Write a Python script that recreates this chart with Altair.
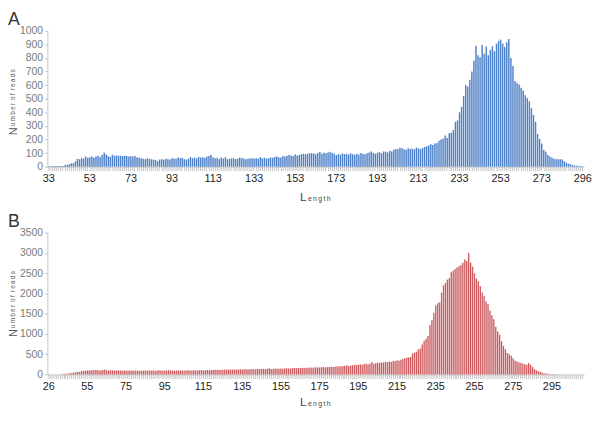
import altair as alt
import pandas as pd

# ---------------- Panel A data ----------------
len_a = list(range(33, 291)) + [292, 294, 296]
reads_a = [
    3, 3, 4, 4, 4, 5, 5, 5, 12, 14,
    18, 25, 26, 40, 58, 55, 62, 60, 75, 65,
    70, 75, 65, 75, 80, 72, 85, 105, 90, 78,
    72, 88, 80, 82, 80, 80, 78, 80, 78, 75,
    76, 74, 78, 70, 65, 62, 58, 55, 62, 58,
    55, 52, 50, 41, 52, 55, 50, 58, 55, 52,
    62, 60, 58, 68, 62, 65, 55, 52, 58, 70,
    62, 66, 60, 72, 68, 70, 66, 75, 78, 85,
    70, 62, 65, 55, 68, 60, 70, 55, 58, 60,
    62, 55, 58, 68, 62, 60, 55, 58, 60, 62,
    60, 62, 58, 70, 62, 65, 60, 62, 68, 65,
    72, 75, 70, 68, 78, 75, 80, 85, 82, 78,
    90, 82, 85, 92, 95, 92, 95, 98, 100, 96,
    92, 100, 108, 95, 102, 98, 105, 110, 100, 95,
    85, 92, 88, 98, 92, 95, 90, 98, 92, 88,
    95, 90, 100, 95, 92, 98, 105, 112, 100, 95,
    102, 108, 98, 112, 110, 105, 118, 112, 125, 130,
    128, 140, 135,
    128, 125, 135, 130, 132, 128, 140, 135, 130, 138,
    145, 150, 155, 165, 160, 170, 175, 190, 200, 205,
    230, 210, 245, 250, 270, 330, 340, 400, 440, 520,
    600, 590, 640, 700, 780, 890, 820, 805, 895, 830,
    885, 820, 860, 885, 850, 905, 925, 935, 905, 880,
    915, 940, 800, 740, 630, 615, 605, 580, 560, 525,
    505, 480, 430, 380, 330, 240, 205, 170, 125, 110,
    85, 75, 65, 58, 55, 55, 55, 52, 40, 30,
    22, 18, 12, 10, 7, 6, 4, 2,
]
labels_a = [33, 53, 73, 93, 113, 133, 153, 173, 193, 213, 233, 253, 273, 296]
yticks_a = [0, 100, 200, 300, 400, 500, 600, 700, 800, 900, 1000]

# ---------------- Panel B data ----------------
len_b = [26] + list(range(36, 312))
reads_b = [
    0, 0, 0, 0, 0, 0, 2, 5, 15, 20,
    25, 30, 40, 48, 55, 60, 65, 85, 90, 95,
    100, 98, 105, 102, 108, 110, 100, 104, 110, 120,
    105, 98, 102, 100, 95, 98, 100, 96, 92, 95,
    98, 94, 96, 100, 92, 98, 95, 90, 96, 94,
    98, 92, 95, 100, 96, 94, 98, 102, 95, 92,
    96, 100, 104, 98, 95, 92, 96, 100, 98, 94,
    96, 100, 104, 96, 98, 102, 100, 96, 104, 108,
    100, 104, 110, 106, 112, 108, 115, 110, 118, 112,
    116, 120, 114, 118, 122, 118, 125, 120, 124, 128,
    122, 126, 130, 124, 128, 132, 126, 130, 135, 130,
    134, 138, 132, 140, 155, 136, 140, 144, 138, 142,
    146, 140, 148, 152, 146, 150, 156, 160, 154, 158,
    162, 166, 160, 164, 168, 172, 166, 170, 175, 170,
    174, 178, 182, 176, 180, 186, 190, 184, 192, 196,
    200, 194, 206, 212, 218, 210, 222, 228, 236, 230,
    242, 248, 240, 256, 262, 250, 270, 300, 264, 278,
    290, 282, 300, 295, 310, 305, 320,
    310, 330, 325, 350, 340, 360, 380, 400,
    410, 420, 430, 520, 540, 560, 620, 640,
    740, 830, 880, 950, 1220, 1340, 1520, 1700, 1760, 1780,
    2020, 2200, 2260, 2340, 2380, 2520, 2560, 2600, 2640, 2670,
    2700, 2760, 2840, 2800,
    3000,
    2760, 2660, 2500, 2370, 2300, 2180, 2020, 1940, 1800, 1740,
    1580, 1460, 1360, 1180, 1060, 980, 820, 700, 620, 530,
    500, 460, 400, 345, 320, 300, 290, 265, 250, 240,
    280, 240, 185, 130, 105, 80, 65, 50, 32, 24,
    16, 10,
    6, 4, 3, 2, 1, 1, 0, 0, 0, 0, 0, 0, 0, 0, 0, 0, 0,
]
labels_b = [26, 55, 75, 95, 115, 135, 155, 175, 195, 215, 235, 255, 275, 295]
yticks_b = [0, 500, 1000, 1500, 2000, 2500, 3000, 3500]

W = 545
FONT = "Liberation Sans"
TS = "\u2009"   # thin space for letter spacing
WS = "\u00a0\u2009"  # word gap

Y_TITLE_REST = TS.join("umber") + WS + TS.join("of") + WS + TS.join("reads")
X_TITLE_REST = TS.join("ength")


def panel(lengths, reads, labels, yticks, ymax, color, letter, h, title_off):
    n = min(len(lengths), len(reads))
    df = pd.DataFrame({"len": lengths[:n], "reads": reads[:n]})
    label_expr = "indexof([%s], datum.value) >= 0 ? datum.label : ''" % ",".join(
        str(v) for v in labels
    )
    bars = alt.Chart(df).mark_bar(color=color).encode(
        x=alt.X(
            "len:O",
            scale=alt.Scale(paddingInner=0.3, paddingOuter=0.3),
            axis=alt.Axis(
                title=None,
                labelExpr=label_expr,
                labelOverlap=False,
                labelAngle=0,
                labelFont=FONT,
                labelFontSize=11,
                labelColor="#222222",
                labelPadding=2,
                tickSize=4,
                tickColor="#c4c4c4",
                domainColor="#c4c4c4",
            ),
        ),
        y=alt.Y(
            "reads:Q",
            scale=alt.Scale(domain=[0, ymax], nice=False),
            axis=alt.Axis(
                title=None,
                values=yticks,
                format="d",
                grid=False,
                labelFont=FONT,
                labelFontSize=10.5,
                labelColor="#7a7a7a",
                labelPadding=2,
                tickSize=3,
                tickColor="#c4c4c4",
                domainColor="#c4c4c4",
            ),
        ),
    )

    def txt(t, x, y, size, **kw):
        return alt.Chart(pd.DataFrame({"t": [t]})).mark_text(
            font=FONT, fontSize=size, **kw
        ).encode(x=alt.value(x), y=alt.value(y), text="t:N")

    letter_mark = txt(letter, -40, -20, 18, align="left", baseline="top",
                      color="#333333", fontWeight=300)
    n_mark = txt("N", -34, 106, 11, align="left", baseline="middle",
                 angle=270, color="#555555")
    rest_mark = txt(Y_TITLE_REST, -35, 97, 6.5, align="left",
                    baseline="middle", angle=270, color="#555555")
    l_mark = txt("L", W / 2 - 16, h + title_off, 12, align="left",
                 baseline="alphabetic", color="#444444")
    ength_mark = txt(X_TITLE_REST, W / 2 - 8, h + title_off, 7, align="left",
                     baseline="alphabetic", color="#444444")

    return alt.layer(
        bars, letter_mark, n_mark, rest_mark, l_mark, ength_mark
    ).properties(width=W, height=h)


panel_a = panel(len_a, reads_a, labels_a, yticks_a, 1000, "#4d80c8", "A", 138, 35)
panel_b = panel(len_b, reads_b, labels_b, yticks_b, 3500, "#cc5c60", "B", 144, 32)

chart = alt.vconcat(panel_a, panel_b, spacing=10).properties(
    padding=0, background="white"
).configure_view(stroke=None)

chart.save("out.html", embed_options={"renderer": "svg", "actions": False})
